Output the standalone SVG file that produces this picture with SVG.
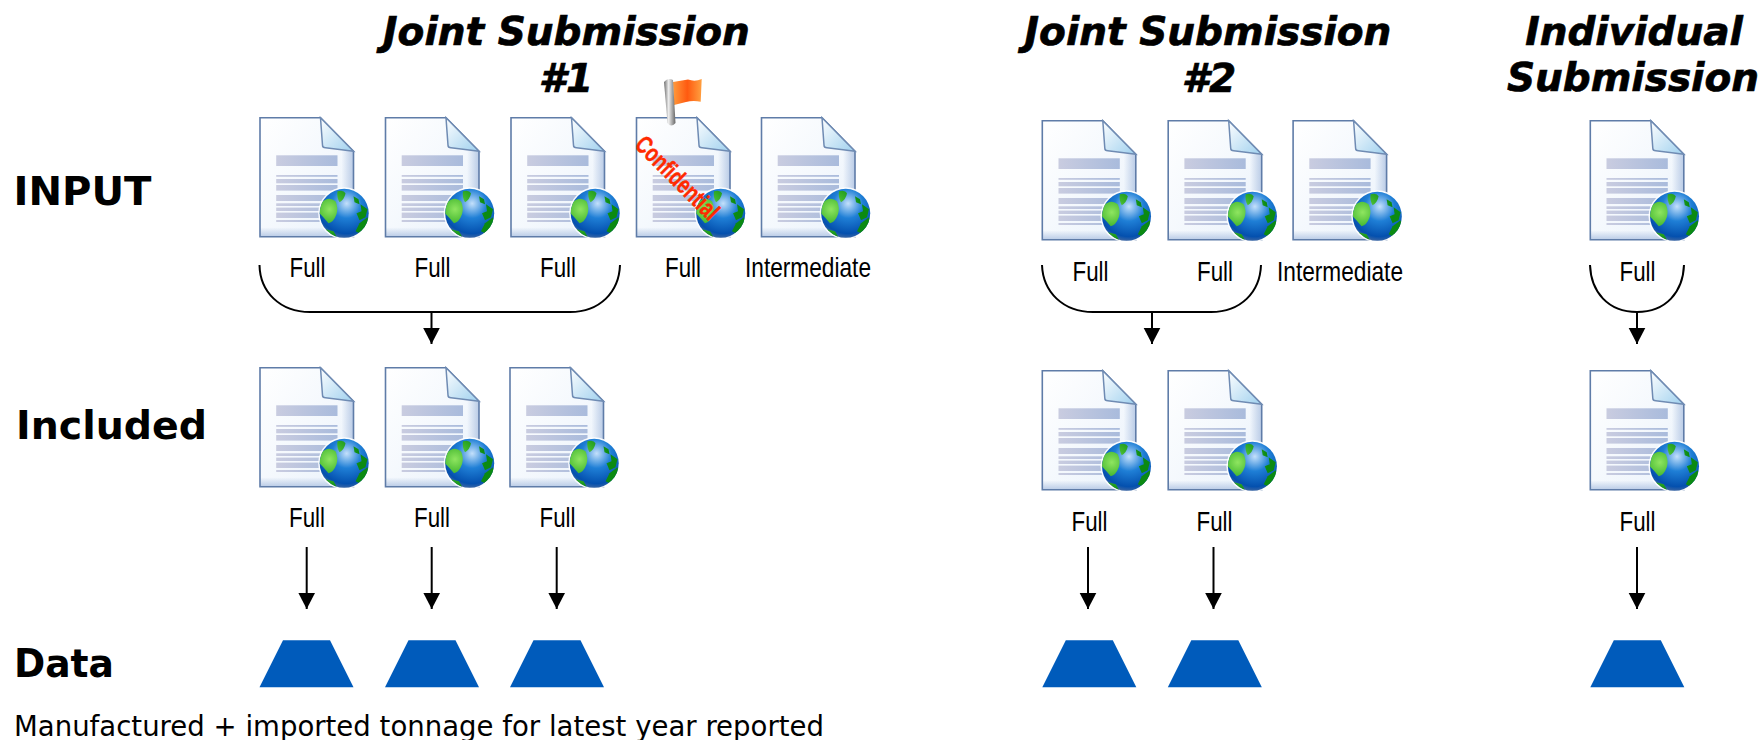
<svg xmlns="http://www.w3.org/2000/svg" width="1762" height="740" viewBox="0 0 1762 740">
<style>
.t{font-family:"DejaVu Sans",sans-serif;font-weight:bold;font-style:italic;font-size:39px;fill:#000;stroke:#000;stroke-width:.7px;text-anchor:middle}
.h{font-family:"DejaVu Sans",sans-serif;font-weight:bold;font-size:39px;fill:#000}
.n{font-family:"DejaVu Sans",sans-serif;font-size:27.500px;fill:#000}
.l{font-family:"Liberation Sans",Arial,sans-serif;font-size:28px;fill:#000;text-anchor:middle}
.c{fill:none;stroke:#000;stroke-width:2}
.a{fill:none;stroke:#000;stroke-width:2;marker-end:url(#ah)}
.tr{fill:#005bbb}
.b{fill:url(#bar)}
</style>
<defs>
<marker id="ah" markerUnits="userSpaceOnUse" markerWidth="18" markerHeight="18" refX="17" refY="9" orient="auto"><path d="M1,0.7L17,9L1,17.3Z" fill="#000"/></marker>
<linearGradient id="page" x1="0" y1="0" x2="1" y2="1"><stop offset="0" stop-color="#fff"/><stop offset="1" stop-color="#eaf2fb"/></linearGradient>
<linearGradient id="edgeR"><stop offset="0" stop-color="#b9cbe6" stop-opacity="0"/><stop offset="1" stop-color="#b9cbe6"/></linearGradient>
<linearGradient id="edgeB" x1="0" y1="0" x2="0" y2="1"><stop offset="0" stop-color="#b9cbe6" stop-opacity="0"/><stop offset="1" stop-color="#b9cbe6"/></linearGradient>
<linearGradient id="bar"><stop offset="0" stop-color="#c9cce0"/><stop offset="1" stop-color="#a9bbdc"/></linearGradient>
<linearGradient id="fold" x1="0" y1="0" x2="1" y2="1"><stop offset="0" stop-color="#fdfeff"/><stop offset="1" stop-color="#9fd0ee"/></linearGradient>
<radialGradient id="sea" cx=".55" cy=".3" r=".75"><stop offset="0" stop-color="#c4e0fb"/><stop offset=".4" stop-color="#1f7fd6"/><stop offset=".82" stop-color="#0450ae"/><stop offset="1" stop-color="#56709e"/></radialGradient>
<radialGradient id="land" gradientUnits="userSpaceOnUse" cx="70" cy="92" r="30"><stop offset="0" stop-color="#8fe560"/><stop offset=".5" stop-color="#3fb52d"/><stop offset="1" stop-color="#0b8a12"/></radialGradient>
<linearGradient id="pole"><stop offset="0" stop-color="#6f6f6f"/><stop offset=".4" stop-color="#eeeeee"/><stop offset="1" stop-color="#666"/></linearGradient>
<linearGradient id="flag"><stop offset="0" stop-color="#ff9a3c"/><stop offset=".5" stop-color="#ff5a10"/><stop offset="1" stop-color="#ffa040"/></linearGradient>
<clipPath id="gc"><circle cx="84.700" cy="96" r="24.500"/></clipPath>
<g id="doc">
<path d="M0.500,0.500H61L94,34V119.500H0.500Z" fill="url(#page)"/>
<path d="M82,30L94,34V119.500H82Z" fill="url(#edgeR)"/>
<rect x="0.500" y="110" width="93.500" height="9.500" fill="url(#edgeB)"/>
<path d="M0.500,0.500H61L94,34V119.500H0.500Z" fill="none" stroke="#5f7ca8" stroke-width="1.600"/>
<path d="M61,0.500L63,28Q63,30.500 66,30.500L94,34Z" fill="url(#fold)" stroke="#6f8bb3" stroke-width="1.500"/>
<rect class="b" x="16.700" y="38" width="61.300" height="10.700"/>
<rect class="b" x="16.700" y="57.700" width="61.300" height="1.800"/>
<rect class="b" x="16.700" y="61.700" width="61.300" height="4.300"/>
<rect class="b" x="16.700" y="67.700" width="61.300" height="5.600"/>
<rect class="b" x="16.700" y="77.700" width="61.300" height="6"/>
<rect class="b" x="16.700" y="86" width="61.300" height="2.700"/>
<rect class="b" x="16.700" y="90.300" width="61.300" height="3.400"/>
<rect class="b" x="16.700" y="95.300" width="61.300" height="5.400"/>
<rect class="b" x="16.700" y="102.700" width="61.300" height="2"/>
<circle cx="84.700" cy="96" r="26" fill="#fff" fill-opacity=".9"/>
<circle cx="84.700" cy="96" r="24.500" fill="url(#sea)"/>
<g clip-path="url(#gc)" fill="url(#land)">
<path d="M61,86Q69,78 76,84Q79,90 77,97Q74,105 69,106Q64,100 60,96Z"/>
<path d="M78,74Q84,72 86,76Q85,82 80,85Q77,80 78,74Z"/>
<path d="M94,79L99,82L100,87L95,85ZM101,87L108,92L106,100L100,103L97,96L102,94Z"/>
<path d="M100,106L108,100L110,108L100,116L96,114Z"/>
<path d="M66,112L74,114L78,121L68,120Z"/>
</g>
</g>
<path id="trap" class="tr" d="M23.500,0H70.500L94,47H0Z"/>
</defs>

<g id="connectors">
<path class="c" d="M259.500,265C260,292 280,312 310,312H570C600,312 619,292 620,265"/>
<path class="a" d="M431.500,312V344"/>
<path class="c" d="M1042,265C1043,292 1063,312 1093,312H1211C1241,312 1260,292 1261,265"/>
<path class="a" d="M1152,312V344"/>
<path class="c" d="M1590,265C1591,292 1608,312 1637,312C1666,312 1683,292 1684,265"/>
<path class="a" d="M1637,312V344"/>
<path class="a" d="M306.700,547V609"/>
<path class="a" d="M431.700,547V609"/>
<path class="a" d="M556.700,547V609"/>
<path class="a" d="M1088,547V609"/>
<path class="a" d="M1213.500,547V609"/>
<path class="a" d="M1637,547V609"/>
</g>

<g id="titles">
<text class="t" x="566.500" y="45">Joint Submission</text>
<text class="t" x="566" y="92">#1</text>
<text class="t" x="1208" y="45">Joint Submission</text>
<text class="t" x="1209" y="92">#2</text>
<text class="t" x="1634" y="45">Individual</text>
<text class="t" x="1633" y="91">Submission</text>
</g>
<g id="row-labels">
<text class="h" x="13.500" y="205" textLength="138" lengthAdjust="spacingAndGlyphs">INPUT</text>
<text class="h" x="16" y="439" textLength="191" lengthAdjust="spacingAndGlyphs">Included</text>
<text class="h" x="14" y="677" textLength="100" lengthAdjust="spacingAndGlyphs">Data</text>
<text class="n" x="14" y="736" textLength="810" lengthAdjust="spacingAndGlyphs">Manufactured + imported tonnage for latest year reported</text>
</g>

<g id="js1-input-1"><use href="#doc" x="259.500" y="117.300"/><text class="l" x="307.500" y="277" textLength="36" lengthAdjust="spacingAndGlyphs">Full</text></g>
<g id="js1-input-2"><use href="#doc" x="385" y="117.300"/><text class="l" x="432.500" y="277" textLength="36" lengthAdjust="spacingAndGlyphs">Full</text></g>
<g id="js1-input-3"><use href="#doc" x="510.500" y="117.300"/><text class="l" x="558" y="277" textLength="36" lengthAdjust="spacingAndGlyphs">Full</text></g>
<g id="js1-input-4"><use href="#doc" x="636" y="117.300"/><text class="l" x="683" y="277" textLength="36" lengthAdjust="spacingAndGlyphs">Full</text>
<path d="M673,82L688,79.500Q695,82 701.700,79L700.700,101.700Q693,100 686,102L674,105Z" fill="url(#flag)"/>
<path d="M664,82Q668,77 673,80L675.500,123Q671,128 667.500,123Z" fill="url(#pole)"/>
<text transform="translate(633.500 146) rotate(45)" font-family="Liberation Sans,Arial,sans-serif" font-weight="bold" font-size="25" fill="#ff2a00" stroke="#ff2a00" stroke-width=".4" textLength="107" lengthAdjust="spacingAndGlyphs">Confidential</text></g>
<g id="js1-input-5"><use href="#doc" x="761" y="117.300"/><text class="l" x="808" y="277" textLength="126" lengthAdjust="spacingAndGlyphs">Intermediate</text></g>

<g id="js1-included-1"><use href="#doc" x="259.500" y="367.300"/><text class="l" x="307" y="527" textLength="36" lengthAdjust="spacingAndGlyphs">Full</text></g>
<g id="js1-included-2"><use href="#doc" x="385" y="367.300"/><text class="l" x="432" y="527" textLength="36" lengthAdjust="spacingAndGlyphs">Full</text></g>
<g id="js1-included-3"><use href="#doc" x="509.500" y="367.300"/><text class="l" x="557.500" y="527" textLength="36" lengthAdjust="spacingAndGlyphs">Full</text></g>

<g id="js2-input-1"><use href="#doc" x="1041.800" y="120.300"/><text class="l" x="1090.500" y="281" textLength="36" lengthAdjust="spacingAndGlyphs">Full</text></g>
<g id="js2-input-2"><use href="#doc" x="1167.700" y="120.300"/><text class="l" x="1215" y="281" textLength="36" lengthAdjust="spacingAndGlyphs">Full</text></g>
<g id="js2-input-3"><use href="#doc" x="1292.600" y="120.300"/><text class="l" x="1340" y="281" textLength="126" lengthAdjust="spacingAndGlyphs">Intermediate</text></g>
<g id="js2-included-1"><use href="#doc" x="1041.800" y="370.300"/><text class="l" x="1089.500" y="531" textLength="36" lengthAdjust="spacingAndGlyphs">Full</text></g>
<g id="js2-included-2"><use href="#doc" x="1167.700" y="370.300"/><text class="l" x="1214.500" y="531" textLength="36" lengthAdjust="spacingAndGlyphs">Full</text></g>
<g id="ind-input"><use href="#doc" x="1589.800" y="120.300"/><text class="l" x="1637.500" y="281" textLength="36" lengthAdjust="spacingAndGlyphs">Full</text></g>
<g id="ind-included"><use href="#doc" x="1589.800" y="370.300"/><text class="l" x="1637.500" y="531" textLength="36" lengthAdjust="spacingAndGlyphs">Full</text></g>

<g id="data-1"><use href="#trap" x="259.500" y="640.300"/></g>
<g id="data-2"><use href="#trap" x="385" y="640.300"/></g>
<g id="data-3"><use href="#trap" x="510" y="640.300"/></g>
<g id="data-4"><use href="#trap" x="1042.300" y="640.300"/></g>
<g id="data-5"><use href="#trap" x="1167.800" y="640.300"/></g>
<g id="data-6"><use href="#trap" x="1590.300" y="640.300"/></g>
</svg>
